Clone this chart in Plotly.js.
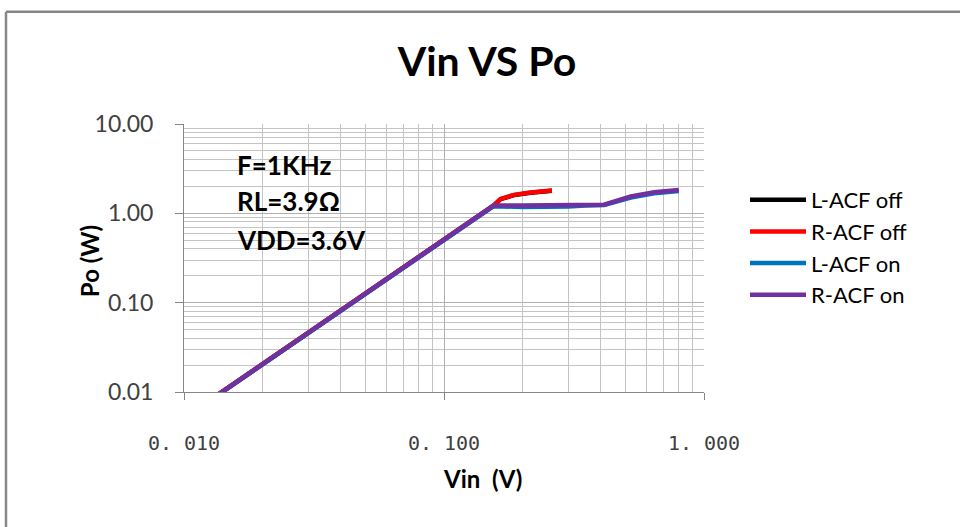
<!DOCTYPE html>
<html>
<head>
<meta charset="utf-8">
<script src="https://cdn.plot.ly/plotly-3.0.1.min.js"></script>
<style>html,body{margin:0;padding:0;background:#fff;}#chart{width:960px;height:527px;}</style>
</head>
<body>
<div id="chart"></div>
<script>
// ---- data ----
const vinOff = [0.013, 0.02, 0.03, 0.05, 0.07, 0.1, 0.12, 0.155, 0.165, 0.186, 0.215, 0.26];
const poLOff = [0.0086, 0.0204, 0.046, 0.128, 0.25, 0.51, 0.735, 1.22, 1.44, 1.6, 1.7, 1.79];
const poROff = [0.0087, 0.0205, 0.046, 0.129, 0.25, 0.51, 0.74, 1.22, 1.45, 1.61, 1.71, 1.8];
const vinOn = [0.013, 0.02, 0.03, 0.05, 0.07, 0.1, 0.12, 0.155, 0.2, 0.25, 0.3, 0.35, 0.413, 0.523, 0.643, 0.8];
const poLOn = [0.0086, 0.0204, 0.046, 0.128, 0.25, 0.51, 0.735, 1.2, 1.18, 1.17, 1.19, 1.22, 1.24, 1.5, 1.68, 1.78];
const poROn = [0.0086, 0.0204, 0.046, 0.128, 0.25, 0.51, 0.735, 1.22, 1.22, 1.22, 1.23, 1.24, 1.25, 1.55, 1.72, 1.82];
const seriesNames = ["L-ACF off", "R-ACF off", "L-ACF on", "R-ACF on"];
const xTickVals = [0.01, 0.1, 1];
const xTickText = ["0. 010", "0. 100", "1. 000"];
const yTickVals = [0.01, 0.1, 1, 10];
const yTickText = ["0.01", "0.10", "1.00", "10.00"];
const notes = ["F=1KHz", "RL=3.9Ω", "VDD=3.6V"];

const colors = ["#000000", "#ff0000", "#0070c0", "#7030a0"];
const xs = [vinOff, vinOff, vinOn, vinOn];
const ys = [poLOff, poROff, poLOn, poROn];

const traces = seriesNames.map((n, i) => ({
  x: xs[i], y: ys[i], name: n, type: "scatter", mode: "lines",
  line: {color: colors[i], width: 4.5},
  hoverinfo: "x+y+name"
}));

const L = 184, R = 704, T = 124, B = 391.7;
const pw = R - L, ph = B - T;
const px = v => (v - L) / pw;
const py = v => (B - v) / ph;

const gridMinor = "#c4c4c4", gridMajor = "#b0b0b0", axisCol = "#868686";

const layout = {
  width: 960, height: 527,
  margin: {l: L, r: 960 - R, t: T, b: 527 - B},
  paper_bgcolor: "#ffffff", plot_bgcolor: "#ffffff",
  font: {family: "Lato, 'Open Sans', sans-serif", color: "#404040"},
  title: {text: "<b>Vin VS Po</b>", font: {size: 41, color: "#000000", family: "Lato, sans-serif"},
          x: 487 / 960, xref: "container", xanchor: "center", y: 1 - 62 / 527, yref: "container", yanchor: "middle"},
  showlegend: true,
  legend: {x: px(745), xanchor: "left", y: py(179), yanchor: "top",
           font: {size: 22, color: "#000000", family: "Lato, sans-serif"},
           bgcolor: "rgba(0,0,0,0)", itemwidth: 56, tracegroupgap: 0},
  xaxis: {
    type: "log", range: [-2, 0], tickmode: "array", tickvals: xTickVals, ticktext: xTickText,
    tickfont: {family: "'DejaVu Sans Mono', monospace", size: 20, color: "#404040"},
    ticks: "outside", ticklen: 7, tickcolor: axisCol, tickwidth: 1, ticklabelstandoff: 26,
    showline: true, linecolor: axisCol, linewidth: 1, mirror: false,
    showgrid: true, gridcolor: gridMajor, gridwidth: 1, zeroline: false,
    minor: {dtick: "D1", showgrid: true, gridcolor: gridMinor, gridwidth: 1, ticks: ""},
    fixedrange: true
  },
  yaxis: {
    type: "log", range: [-2, 1], tickmode: "array", tickvals: yTickVals, ticktext: yTickText,
    tickfont: {family: "Lato, sans-serif", size: 23, color: "#404040"},
    ticks: "outside", ticklen: 8, tickcolor: axisCol, tickwidth: 1, ticklabelstandoff: 17,
    showline: true, linecolor: axisCol, linewidth: 1,
    showgrid: true, gridcolor: gridMajor, gridwidth: 1, zeroline: false,
    minor: {dtick: "D1", showgrid: true, gridcolor: gridMinor, gridwidth: 1, ticks: ""},
    fixedrange: true
  },
  annotations: [
    {text: "<b>Vin  (V)</b>", xref: "paper", yref: "paper", x: px(482), y: py(478), xanchor: "center", yanchor: "middle",
     showarrow: false, font: {size: 24, color: "#000000", family: "Lato, sans-serif"}},
    {text: "<b>Po (W)</b>", xref: "paper", yref: "paper", x: px(89), y: py(261), xanchor: "center", yanchor: "middle",
     textangle: -90, showarrow: false, font: {size: 24, color: "#000000", family: "Lato, sans-serif"}},
    ...notes.map((t, i) => ({
      text: "<b>" + t + "</b>", xref: "paper", yref: "paper", x: px(235), y: py([165, 201, 240][i]),
      xanchor: "left", yanchor: "middle", showarrow: false,
      font: {size: 26, color: "#000000", family: "Lato, sans-serif"}
    }))
  ],
  shapes: [
    {type: "line", xref: "paper", yref: "paper", x0: px(6), x1: px(6), y0: py(12), y1: py(560), line: {color: "#878787", width: 2.5}},
    {type: "line", xref: "paper", yref: "paper", x0: px(6), x1: px(990), y0: py(12), y1: py(12), line: {color: "#878787", width: 2.5}}
  ]
};

Plotly.newPlot("chart", traces, layout, {displayModeBar: false, staticPlot: true});
</script>
</body>
</html>
